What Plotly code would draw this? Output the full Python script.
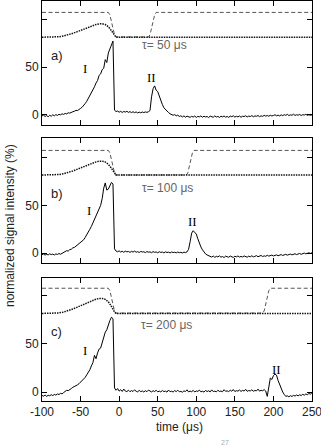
import plotly.graph_objects as go

# ---------------- data ----------------
time_grid = list(range(-100, 251, 2))  # sampling instants (us)

sig_a = ([-1.0, -0.2, -1.6, -0.6, -1.9, -0.4, -1.3, 0.2, -0.9, 0.4, -0.5, 0.7, 0.1, 1.2, 0.6]
         + [1.6, 1.1, 2.3, 1.9, 3.0, 3.4, 3.9, 4.8, 4.6, 6.3, 6.9, 8.1, 9.6, 12.0, 14.3, 17.2,
            20.5, 23.0, 27.0, 29.5, 33.5, 36.0, 41.5, 43.0, 47.5, 49.0, 58.0, 55.0, 65.0, 69.0, 74.5, 77.5]
         + [5.0, 3.6, 4.1, 2.9, 3.8, 2.6, 3.7, 3.0, 3.9, 2.7, 3.5, 2.5, 3.4, 2.4, 3.2, 2.1, 3.0, 2.3,
            3.1, 2.5, 3.2, 2.7, 3.4, 4.6]
         + [19.0, 27.5, 30.5, 26.0, 24.5, 19.5, 16.0, 11.0, 7.5, 5.5, 3.8, 2.6, 1.2, 0.6, -0.3]
         + [0.4, -0.9, -0.2, -1.6, -0.8, -2.1, -1.0, -2.3, -1.2, -1.9,
            -2.5, -1.4, -2.2, -1.1, -2.6, -1.5, -2.0, -1.0, -2.4, -1.3,
            -2.1, -1.6, -2.7, -1.2, -1.9, -2.4, -1.0, -2.2, -1.5, -2.6,
            -1.3, -2.0, -1.1, -2.3, -1.6, -2.5, -1.2, -1.8, -0.9, -2.2,
            -1.4, -2.0, -1.1, -2.4, -1.3, -1.7, -0.8, -2.1, -1.2, -1.6,
            -0.7, -1.9, -1.0, -1.4, -0.6, -1.8, -0.9, -1.5, -0.4, -1.2,
            -0.6, -1.3, -0.3, -1.1, -0.5, 0.2, -0.9, -0.2, -1.0, 0.1,
            -0.7, 0.3, -0.4, 0.6, -0.6, 0.1, -0.3, 0.8, -0.5, 0.2,
            -0.2, 0.5, -0.6, 0.3, -0.1, 0.7, -0.4, 0.2, -0.3, 0.1])

sig_b = ([-1.6, -0.9, -2.0, -1.2, -1.8, -0.7, -1.5, -1.0, -1.9, -0.8, -1.3, -0.4, -1.1, -0.2, 0.6]
         + [1.2, 2.6, 2.2, 3.8, 4.1, 5.6, 6.0, 7.4, 8.0, 10.2, 11.0, 12.8, 14.0, 16.5, 19.0, 21.5,
            25.0, 28.0, 32.0, 35.5, 39.0, 42.5, 46.0, 50.0, 57.0, 68.0, 73.5, 66.0, 67.0, 71.0, 74.0, 72.5]
         + [4.5, 2.2, 1.5, 2.4, 1.2, 2.0, 0.9, 2.1, 1.4, 1.8,
            0.8, 1.9, 1.1, 2.2, 1.0, 1.6, 0.7, 1.8, 1.2, 1.5,
            0.6, 1.7, 1.0, 1.4, 0.5, 1.6, 0.9, 1.3, 0.4, 1.5,
            0.8, 1.2, 0.3, 1.4, 0.7, 1.1, 0.2, 1.3, 0.6, 1.0,
            0.3, 1.2, 0.5, 0.9, 0.2, 1.1, 0.6, 1.4]
         + [4.0, 12.0, 21.0, 23.5, 21.5, 20.0, 15.0, 10.0, 6.5, 3.5, 1.0, -0.8, -1.9, -2.8]
         + [-3.2, -4.1, -3.0, -4.4, -3.3, -3.9, -2.8, -4.2, -3.5, -4.6,
            -3.1, -3.8, -4.3, -3.0, -3.7, -4.5, -3.2, -3.9, -2.9, -4.1,
            -3.4, -4.0, -2.9, -3.6, -4.2, -3.1, -3.8, -2.7, -3.9, -3.3,
            -2.6, -3.7, -3.0, -2.4, -3.5, -2.8, -3.3, -2.2, -3.1, -2.5,
            -2.0, -2.9, -2.3, -1.8, -2.7, -2.0, -1.5, -2.4, -1.7, -1.2,
            -2.1, -1.4, -0.9, -1.8, -1.1, -0.6, -1.5, -0.8, -0.3, -1.2,
            -0.5, 0.1, -0.7, -0.2, 0.4, -0.3, 0.5])

sig_c = ([-3.6, -4.3, -3.1, -4.5, -3.4, -3.9, -2.8, -3.7, -2.5, -3.2, -2.0, -2.6, -1.4, -1.9, -0.6]
         + [0.5, 1.8, 1.4, 3.0, 3.6, 4.9, 5.5, 6.8, 7.4, 8.6, 10.0, 11.5, 13.5, 15.2, 17.8, 20.0,
            23.0, 27.0, 30.5, 38.0, 34.5, 40.5, 44.5, 45.5, 51.0, 56.0, 62.0, 64.5, 70.0, 74.0, 77.5, 76.0]
         + [4.2, 1.8, 3.6, 0.9, 2.4, 0.6, 3.1, 1.0, 0.4, 1.9,
            0.3, 1.5, 0.5, 2.2, 0.8, 0.2, 1.7, 0.4, 1.1, 0.0,
            1.4, 0.3, 2.0, 0.6, 0.1, 1.3, 0.5, 1.8, 0.2, 0.9,
            0.1, 1.6, 0.4, 1.0, -0.1, 2.1, 0.3, 0.8, 0.0, 1.5,
            0.4, 1.9, 0.2, 0.7, -0.2, 1.2, 0.5, 2.3, 0.1, 0.9,
            0.3, 1.7, 0.0, 1.1, 0.6, 2.0, 0.2, 0.8, -0.1, 1.6,
            0.5, 1.3, 0.1, 2.2, 0.4, 0.9, 0.2, 1.8, 0.6, 1.0,
            0.3, 2.4, 0.7, 1.2, 0.4, 1.9, 0.8, 2.6, 0.5, 1.4,
            0.9, 2.1, 0.6, 1.7, 1.0, 2.8, 0.7, 1.5, 1.1, 2.3,
            0.8, 1.6, 1.2, 3.0, 0.9, 1.8, 1.3, 2.5, 1.0]
         + [-4.5, 6.0, 14.5, 13.0, 17.0, 18.5, 17.5, 12.0, 7.5, 3.5, 0.0, -2.5, -4.5, -4.0, -5.0, -3.8]
         + [-4.6, -3.5, -4.2, -3.1, -4.0, -2.9, -3.6, -2.4, -3.3, -2.0, -2.8, -1.5, -2.2, -0.8])

# dotted curve (first pulse profile)
hump_t = [-100, -85, -78, -72, -66, -60, -54, -48, -42, -36, -30, -26, -22, -18, -14, -11, -8, -6, -4, 250]
hump_a = [81.5, 81.6, 82.0, 82.8, 84.0, 85.6, 87.4, 89.4, 91.4, 93.2, 94.8, 95.5, 95.6, 94.8, 92.5, 89.5, 85.5, 83.0, 81.5, 81.5]
hump_b = [81.8, 81.9, 82.3, 83.1, 84.4, 86.0, 87.9, 89.9, 92.0, 93.9, 95.5, 96.2, 96.3, 95.4, 93.0, 89.9, 85.8, 83.3, 81.8, 81.8]
hump_c = [81.4, 81.5, 81.9, 82.8, 84.2, 86.0, 88.0, 90.2, 92.4, 94.4, 96.2, 96.9, 97.0, 96.0, 93.4, 90.0, 85.6, 83.0, 81.4, 81.4]

# dashed curve (gate, second opening delayed by tau)
gate_a_t = [-100, -14, -12, -10, -8, -6, -4.5, 38, 40, 42, 44, 46, 48, 250]
gate_b_t = [-100, -14, -12, -10, -8, -6, -4.5, 87, 89, 91, 93, 95, 97, 250]
gate_c_t = [-100, -14, -12, -10, -8, -6, -4.5, 186, 188, 190, 192, 194, 196, 250]
gate_v = [107.5, 107.5, 105, 98, 90, 84, 81.8, 81.8, 84, 91, 99, 105, 107.5, 107.5]

panel_labels = ["a)", "b)", "c)"]
tau_labels = ["τ= 50 μs", "τ= 100 μs", "τ= 200 μs"]
x_ticks = [-100, -50, 0, 50, 100, 150, 200, 250]
x_ticktext = ["-100", "-50", "0", "50", "100", "150", "200", "250"]
y_ticks = [0, 50, 100]
y_ticktext = ["0", "50", ""]

# ---------------- layout helpers ----------------
W, H = 321, 447
ML, MR, MT, MB = 42, 9, 0, 46
PH = H - MT - MB
panels_px = [(0.5, 124.5), (138.0, 263.3), (278.3, 400.7)]
y_ranges = [[-10, 120], [-10.6, 120.5], [-9, 117.8]]

pos_I = [(-44.5, 48.6), (-39, 45), (-44.5, 43.4)]
pos_II = [(42, 39), (94.8, 32.8), (203.5, 23.5)]
pos_tau = [(27, 73), (27, 67.8), (26, 69.3)]

sigs = [sig_a, sig_b, sig_c]
humps = [hump_a, hump_b, hump_c]
gates_t = [gate_a_t, gate_b_t, gate_c_t]

fig = go.Figure()
annotations = []
sans = "Liberation Sans, Arial, sans-serif"
serif = "Liberation Serif, Times New Roman, serif"

for i in range(3):
    xa = "x" if i == 0 else f"x{i+1}"
    ya = "y" if i == 0 else f"y{i+1}"
    fig.add_trace(go.Scatter(x=gates_t[i], y=gate_v, mode="lines", xaxis=xa, yaxis=ya,
                             line=dict(color="#555555", width=1, dash="4px,2.5px"),
                             showlegend=False, hoverinfo="skip"))
    fig.add_trace(go.Scatter(x=hump_t, y=humps[i], mode="lines", xaxis=xa, yaxis=ya,
                             line=dict(color="#111111", width=1.5, dash="1.5px,1px"),
                             showlegend=False, hoverinfo="skip"))
    fig.add_trace(go.Scatter(x=time_grid, y=sigs[i], mode="lines", xaxis=xa, yaxis=ya,
                             line=dict(color="#000000", width=1),
                             showlegend=False, hoverinfo="skip"))

    top, bot = panels_px[i]
    dom = [1 - bot / PH, 1 - top / PH]
    axx = dict(domain=[0, 1], anchor=ya, range=[-100, 250], tickvals=x_ticks, ticktext=x_ticktext,
               ticks="inside", ticklen=5, tickcolor="black", showline=True, linecolor="black",
               linewidth=1, mirror="ticks", showgrid=False, zeroline=False,
               showticklabels=(i == 2), ticklabeloverflow="allow",
               tickfont=dict(family=sans, size=12, color="#222222"))
    axy = dict(domain=dom, anchor=xa, range=y_ranges[i], tickvals=y_ticks, ticktext=y_ticktext,
               ticks="inside", ticklen=5, tickcolor="black", showline=True, linecolor="black",
               linewidth=1, mirror="ticks", showgrid=False, zeroline=False,
               tickfont=dict(family=sans, size=12, color="#222222"))
    key = "" if i == 0 else str(i + 1)
    fig.update_layout(**{f"xaxis{key}": axx, f"yaxis{key}": axy})

    annotations.append(dict(x=-91, y=62.5, xref=xa, yref=ya, text=panel_labels[i], showarrow=False,
                            xanchor="left", yanchor="middle",
                            font=dict(family=sans, size=13, color="#222222")))
    annotations.append(dict(x=pos_I[i][0], y=pos_I[i][1], xref=xa, yref=ya, text="I", showarrow=False,
                            font=dict(family=serif, size=13, color="#000000")))
    annotations.append(dict(x=pos_II[i][0], y=pos_II[i][1], xref=xa, yref=ya, text="II", showarrow=False,
                            font=dict(family=serif, size=13, color="#000000")))
    annotations.append(dict(x=pos_tau[i][0], y=pos_tau[i][1], xref=xa, yref=ya, text=tau_labels[i],
                            showarrow=False, xanchor="left",
                            font=dict(family=sans, size=12, color="#666666")))

annotations.append(dict(x=(10 - ML) / (W - ML - MR), y=1 - 226 / PH, xref="paper", yref="paper",
                        text="normalized signal intensity (%)", textangle=-90, showarrow=False,
                        xanchor="center", yanchor="middle",
                        font=dict(family=sans, size=12, color="#222222")))
annotations.append(dict(x=(179 - ML) / (W - ML - MR), y=1 - 426.5 / PH, xref="paper", yref="paper",
                        text="time (μs)", showarrow=False, xanchor="center", yanchor="middle",
                        font=dict(family=sans, size=12, color="#222222")))
annotations.append(dict(x=(225 - ML) / (W - ML - MR), y=1 - 436.5 / PH, xref="paper", yref="paper",
                        text="27", showarrow=False, xanchor="center", yanchor="top",
                        font=dict(family=sans, size=7, color="#aaaaaa")))

fig.update_layout(width=W, height=H, margin=dict(l=ML, r=MR, t=MT, b=MB),
                  paper_bgcolor="white", plot_bgcolor="white", annotations=annotations,
                  showlegend=False)

fig.write_html("out.html", config={"displayModeBar": False})
